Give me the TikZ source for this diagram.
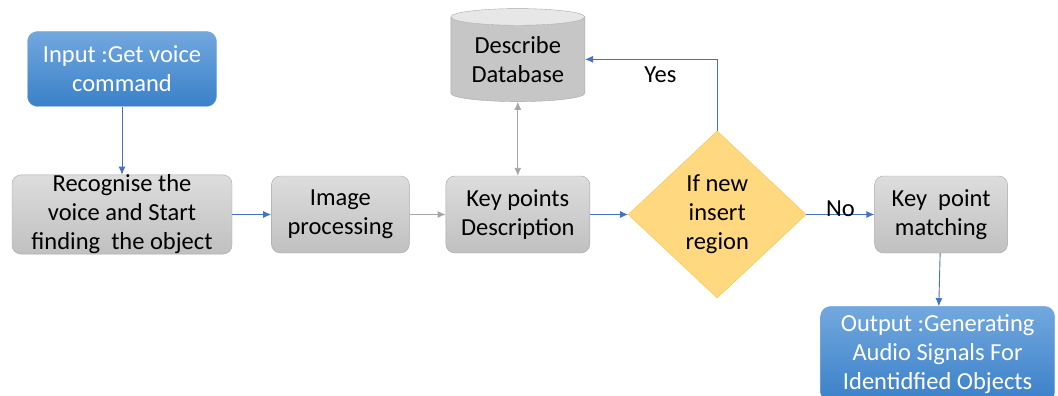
\documentclass[tikz,border=0pt]{standalone}
\usepackage{fontspec}
\setmainfont{Carlito}
\usetikzlibrary{arrows.meta,positioning,shapes.geometric}
\definecolor{boxtop}{RGB}{221,221,221}
\definecolor{boxbot}{RGB}{192,192,192}
\definecolor{boxline}{RGB}{168,168,168}
\definecolor{iotop}{RGB}{114,168,222}
\definecolor{iobot}{RGB}{58,128,201}
\definecolor{ioline}{RGB}{120,170,222}
\definecolor{decfill}{RGB}{255,216,128}
\definecolor{decline}{RGB}{248,196,70}
\definecolor{flowblue}{RGB}{68,114,196}
\definecolor{linkgray}{RGB}{166,166,166}

\begin{document}
\begin{tikzpicture}[x=1pt, y=-1pt, >={Latex[length=8pt,width=7pt]},
  every node/.style={font=\fontsize{24.5}{29}\selectfont, align=center},
  proc/.style={draw=boxline, rounded corners=9pt, top color=boxtop, bottom color=boxbot, minimum height=77pt, inner sep=0pt},
  io/.style={draw=ioline, rounded corners=10pt, top color=iotop, bottom color=iobot, text=white, inner sep=0pt},
  flow/.style={->, draw=flowblue, line width=0.9pt},
  link/.style={draw=linkgray, line width=0.9pt}]
\clip (0,0) rectangle (1058,396);
% main row
\node[proc, minimum width=220pt] (recog) at (122,214.5) {Recognise the\\voice and Start\\finding\ \ the object};
\node[proc, minimum width=138pt, right=39pt of recog] (img) {Image\\processing};
\node[proc, minimum width=144pt, right=36pt of img] (kp) {Key points\\Description};
\node[diamond, draw=decline, fill=decfill, inner sep=0pt, minimum width=178pt, minimum height=167pt, right=38pt of kp] (dec) {If new\\insert\\region};
\node[proc, minimum width=133pt, right=68pt of dec] (match) {Key\ \ point\\matching};
% input, database and output
\node[io, minimum width=189pt, minimum height=75pt, above=68pt of recog] (input) {Input :Get voice\\command};
\node[cylinder, shape border rotate=90, shape aspect=0.18, draw=boxline, cylinder uses custom fill, cylinder body fill=boxbot!80!boxtop, cylinder end fill=boxtop!70!white, minimum width=134pt, minimum height=93pt, inner sep=0pt, above=74pt of kp] (db) {Describe\\Database};
\node[io, minimum width=234pt, minimum height=96pt, below=53pt of match, xshift=-3.5pt] (output) {Output :Generating\\Audio Signals For\\Identidfied Objects};
% connectors
\draw[flow] (input) -- (recog);
\draw[flow] (recog) -- (img);
\draw[link,->] (img) -- (kp);
\draw[link,<->] (kp) -- (db);
\draw[flow] (kp) -- (dec);
\draw[flow] (dec.north) |- node[pos=0.715, yshift=-15pt]{Yes} (db.east);
\draw[flow] (dec) -- node[yshift=6pt]{No} (match);
\draw[flow] (match) -- (output);
\end{tikzpicture}
\end{document}
